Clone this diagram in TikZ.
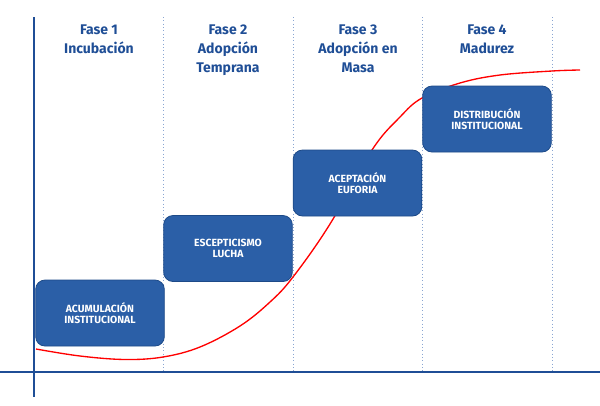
\documentclass[tikz,border=0pt]{standalone}
\usepackage{fontspec}
\setmainfont{Fira Sans}
\definecolor{navy}{HTML}{1F4E96}
\definecolor{boxblue}{HTML}{2B5FA7}
\definecolor{boxedge}{HTML}{1D4A88}
\definecolor{sepblue}{HTML}{8AA6D2}
\definecolor{curvered}{HTML}{FF0000}
\begin{document}
\begin{tikzpicture}[x=0.75pt,y=-0.75pt,
  phase/.style={anchor=north,inner sep=0pt,align=center,text=navy,
    font=\fontsize{10.5}{14.25}\selectfont\bfseries},
  stagebox/.style={draw=boxedge,line width=0.6pt,fill=boxblue,rounded corners=7pt,
    minimum width=96.5pt,minimum height=49.5pt,inner sep=0pt,align=center,text=white,
    font=\fontsize{7.8}{8.4}\selectfont\bfseries},
  sepline/.style={sepblue,line width=0.5pt,dotted},
  axisline/.style={navy,line width=2pt},
  scurve/.style={curvered,line width=1pt}]
\useasboundingbox (0,0) rectangle (600,405);
% separators
\foreach \i/\x in {1/163,2/293,3/422,4/552}{
  \coordinate (st\i) at (\x,17);
  \coordinate (sb\i) at (\x,372);
  \draw[sepline] (st\i) -- (sb\i);
}
% S-curve
\draw[scurve] plot[smooth,tension=0.6] coordinates {(36,349) (80,356) (125,359.5) (163,357) (200,347) (240,326) (270,302) (293,277) (330,224) (372,150) (400,117) (422,98) (460,83) (500,75) (552,71) (580,70)};
% axes
\coordinate (xl) at (0,372);
\coordinate (xr) at (600,372);
\coordinate (yt) at (34,17);
\coordinate (yb) at (34,397);
\draw[axisline] (xl) -- (xr);
\draw[axisline] (yt) -- (yb);
% headers
\node[phase] (h1) at (99,25) {Fase 1\\Incubación};
\node[phase] (h2) at (228,25) {Fase 2\\Adopción\\Temprana};
\node[phase] (h3) at (358,25) {Fase 3\\Adopción en\\Masa};
\node[phase] (h4) at (487,25) {Fase 4\\Madurez};
% boxes
\node[stagebox] (b1) at (100,313) {ACUMULACIÓN\\INSTITUCIONAL};
\node[stagebox] (b2) at (228,248.5) {ESCEPTICISMO\\LUCHA};
\node[stagebox] (b3) at (357.5,183) {ACEPTACIÓN\\EUFORIA};
\node[stagebox] (b4) at (487,119) {DISTRIBUCIÓN\\INSTITUCIONAL};
\end{tikzpicture}
\end{document}
